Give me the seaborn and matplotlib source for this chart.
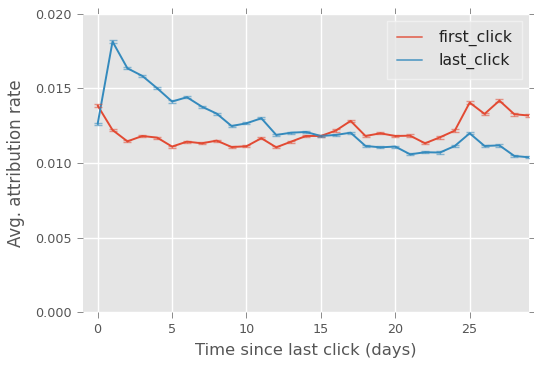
import numpy as np
import pandas as pd
import matplotlib
matplotlib.use("Agg")
import matplotlib.pyplot as plt
import seaborn as sns

days = list(range(30))
first_click = [0.01385, 0.01221, 0.01145, 0.01181, 0.01170, 0.01110, 0.01143, 0.01132,
               0.01150, 0.01107, 0.01112, 0.01166, 0.01105, 0.01143, 0.01181, 0.01181,
               0.01217, 0.01282, 0.01181, 0.01199, 0.01181, 0.01183, 0.01132, 0.01172,
               0.01217, 0.01405, 0.01329, 0.01418, 0.01327, 0.01318]
last_click = [0.01262, 0.01814, 0.01635, 0.01584, 0.01501, 0.01412, 0.01441, 0.01378,
              0.01331, 0.01248, 0.01266, 0.01300, 0.01188, 0.01203, 0.01208, 0.01181,
              0.01188, 0.01203, 0.01114, 0.01105, 0.01110, 0.01058, 0.01072, 0.01070,
              0.01114, 0.01199, 0.01114, 0.01118, 0.01047, 0.01038]
first_err = [0.00008, 0.00007, 0.00007, 0.00007, 0.00007, 0.00007, 0.00007, 0.00007,
             0.00007, 0.00007, 0.00007, 0.00007, 0.00007, 0.00007, 0.00007, 0.00007,
             0.00008, 0.00008, 0.00008, 0.00008, 0.00008, 0.00008, 0.00008, 0.00008,
             0.00008, 0.00009, 0.00009, 0.00009, 0.00009, 0.00009]
last_err = [0.00008, 0.00008, 0.00007, 0.00007, 0.00007, 0.00007, 0.00007, 0.00007,
            0.00007, 0.00007, 0.00007, 0.00007, 0.00007, 0.00007, 0.00007, 0.00007,
            0.00007, 0.00007, 0.00007, 0.00007, 0.00007, 0.00007, 0.00007, 0.00007,
            0.00007, 0.00008, 0.00008, 0.00008, 0.00008, 0.00008]

series = {"first_click": (first_click, first_err), "last_click": (last_click, last_err)}
colors = {"first_click": "#E24A33", "last_click": "#348ABD"}

df = pd.DataFrame({
    "day": days * 2,
    "rate": first_click + last_click,
    "kind": ["first_click"] * len(days) + ["last_click"] * len(days),
})

sns.set_theme(style="darkgrid", rc={
    "axes.facecolor": "#E5E5E5",
    "axes.edgecolor": "#E5E5E5",
    "grid.color": "white",
    "grid.linewidth": 1.0,
    "xtick.color": "#555555",
    "ytick.color": "#555555",
    "axes.labelcolor": "#555555",
    "xtick.bottom": True,
    "xtick.top": True,
    "ytick.left": True,
    "ytick.right": True,
    "xtick.direction": "out",
    "ytick.direction": "out",
    "xtick.major.size": 4,
    "ytick.major.size": 4,
    "xtick.major.width": 0.6,
    "ytick.major.width": 0.6,
})
plt.rcParams["font.family"] = ["DejaVu Sans"]

fig = plt.figure(figsize=(5.34, 3.65), dpi=100)
ax = fig.add_axes([0.155, 0.145, 0.836, 0.817])

sns.lineplot(data=df, x="day", y="rate", hue="kind", palette=colors,
             linewidth=1.4, ax=ax, errorbar=None)

for name, (vals, errs) in series.items():
    ax.errorbar(days, vals, yerr=errs, fmt="none", ecolor=colors[name],
                elinewidth=1.0, capsize=3, capthick=1.0, alpha=0.55)

ax.set_xlim(-1, 29)
ax.set_ylim(0, 0.020)
ax.set_xticks([0, 5, 10, 15, 20, 25])
ax.set_yticks([0.000, 0.005, 0.010, 0.015, 0.020])
ax.set_yticklabels(["0.000", "0.005", "0.010", "0.015", "0.020"])
ax.tick_params(axis="both", labelsize=9.2, colors="#777777", labelcolor="#555555", pad=4)
ax.set_xlabel("Time since last click (days)", fontsize=11.8, color="#555555", labelpad=5)
ax.set_ylabel("Avg. attribution rate", fontsize=12.0, color="#555555", labelpad=7)

for s in ax.spines.values():
    s.set_visible(False)

handles, labels = ax.get_legend_handles_labels()
for h in handles:
    h.set_alpha(0.7)
leg = ax.legend(handles, labels, loc="upper right", prop={"size": 11.25},
                frameon=True, facecolor="#E5E5E5", edgecolor="#F4F4F4",
                fancybox=False, borderaxespad=0.45, borderpad=0.6,
                labelspacing=0.43, handlelength=1.6, handletextpad=1.1)
leg.get_frame().set_linewidth(1.0)
for t in leg.get_texts():
    t.set_color("#222222")

fig.savefig("out.png", dpi=100)
